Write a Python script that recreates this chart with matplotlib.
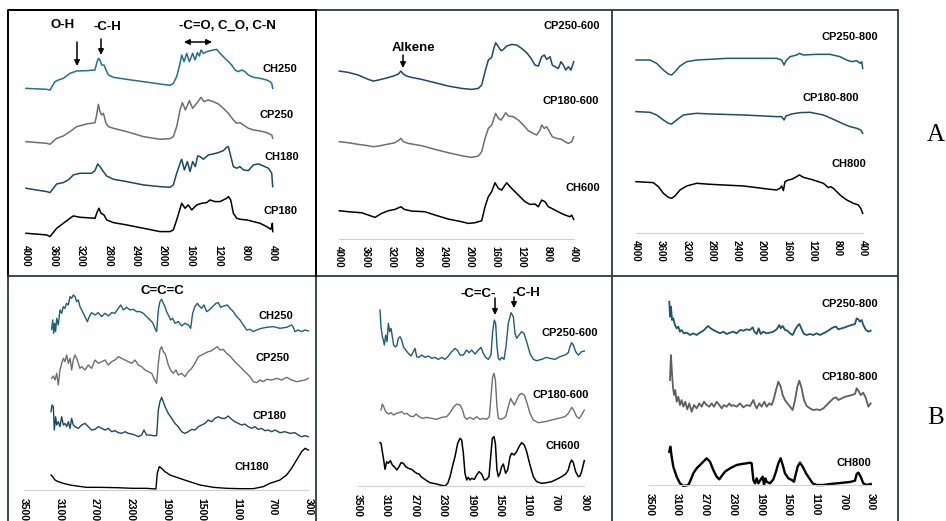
import matplotlib
matplotlib.use("Agg")
import matplotlib.pyplot as plt
import numpy as np

plt.rcParams["font.family"] = ["Liberation Sans", "DejaVu Sans"]

W, H = 946, 521
SCALE = 1 / 3          # px per a.u. of the stacked spectra

# ---------------- A: FTIR, 4000-400 cm-1 ----------------
ticks_a = [4000, 3600, 3200, 2800, 2400, 2000, 1600, 1200, 800, 400]
ticks_b = [3500, 3100, 2700, 2300, 1900, 1500, 1100, 700, 300]

# hydrochars / pyrolysed chars (panel A, left)
a1_ch250_w = [4000, 3698, 3650, 3577, 3528, 3455, 3358, 3260, 3115, 2993,
              2969, 2944, 2920, 2896, 2862, 2832, 2798, 2725, 2531, 2287,
              2044, 1898, 1850, 1801, 1752, 1728, 1694, 1655, 1616, 1568,
              1534, 1499, 1470, 1446, 1412, 1363, 1266, 1217, 1169, 1120,
              1047, 998, 950, 901, 852, 804, 755, 682, 585, 487, 439, 414, 400]
a1_ch250_i = [5, 2, 0, 25, 30, 35, 50, 57, 58, 60, 80, 95, 90, 75, 75, 60, 45, 38, 32, 25,
              18, 14, 20, 40, 80, 105, 85, 110, 85, 110, 90, 112, 102, 120, 110, 115, 120, 122, 110, 100,
              85, 75, 60, 55, 60, 55, 45, 38, 35, 30, 25, 20, 5]
a1_cp250_w = [4000, 3698, 3650, 3552, 3455, 3358, 3260, 3115, 2993, 2969,
              2944, 2920, 2896, 2871, 2832, 2798, 2725, 2531, 2287, 2044,
              1898, 1850, 1801, 1752, 1718, 1674, 1616, 1568, 1509, 1446,
              1402, 1339, 1266, 1193, 1120, 1047, 974, 925, 877, 828,
              755, 682, 585, 487, 414, 400]
a1_cp250_i = [8, 3, 0, 18, 25, 38, 53, 61, 65, 88, 120, 98, 88, 93, 63, 53, 48, 38, 23, 15,
              17, 23, 53, 103, 125, 103, 131, 108, 123, 141, 128, 133, 128, 121, 108, 93, 73, 63, 65, 58,
              48, 43, 40, 35, 28, 18]
a1_ch180_w = [4000, 3698, 3650, 3552, 3455, 3382, 3309, 3212, 3042, 2993,
              2954, 2920, 2871, 2823, 2725, 2531, 2287, 2044, 1898, 1850,
              1801, 1752, 1728, 1689, 1645, 1606, 1568, 1529, 1495, 1460,
              1412, 1339, 1266, 1193, 1120, 1071, 1047, 1023, 974, 925,
              877, 828, 755, 682, 609, 536, 463, 414, 400]
a1_ch180_i = [13, 3, 0, 26, 30, 38, 53, 58, 58, 66, 86, 78, 63, 50, 40, 33, 23, 18, 16, 23,
              58, 88, 100, 68, 93, 63, 93, 78, 110, 108, 100, 113, 116, 120, 126, 136, 138, 118, 78, 73,
              78, 68, 66, 83, 86, 80, 73, 58, 18]
a1_cp180_w = [4000, 3698, 3650, 3552, 3455, 3358, 3309, 3212, 2993, 2959,
              2935, 2905, 2862, 2823, 2725, 2531, 2287, 2044, 1898, 1850,
              1801, 1728, 1679, 1631, 1582, 1509, 1436, 1363, 1315, 1242,
              1169, 1071, 1047, 1013, 974, 925, 877, 779, 682, 585,
              487, 429, 414, 405, 400]
a1_cp180_i = [10, 5, 0, 25, 40, 55, 62, 58, 55, 75, 85, 70, 65, 50, 42, 35, 25, 15, 15, 20,
              50, 100, 85, 95, 80, 95, 100, 102, 110, 105, 105, 115, 120, 110, 70, 55, 52, 50, 45, 40,
              30, 22, 30, 40, 15]

# chars at 600 C (panel A, middle)
a2_cp250_w = [4000, 3862, 3708, 3554, 3478, 3401, 3298, 3170, 3094, 3053,
              3017, 2966, 2889, 2735, 2530, 2325, 2121, 1967, 1865, 1813,
              1762, 1711, 1660, 1634, 1598, 1557, 1516, 1480, 1429, 1352,
              1276, 1199, 1122, 1055, 994, 943, 892, 851, 815, 764,
              728, 687, 636, 595, 559, 523, 482, 441, 400]
a2_cp250_i = [55, 51, 43, 30, 25, 28, 33, 40, 46, 55, 46, 40, 36, 30, 20, 10, 3, 0, 3, 13,
              53, 88, 96, 118, 140, 128, 116, 120, 130, 135, 133, 123, 110, 93, 73, 70, 98, 103, 90, 98,
              73, 68, 63, 83, 73, 58, 68, 58, 83]
a2_cp180_w = [4000, 3862, 3708, 3554, 3478, 3401, 3273, 3145, 3083, 3053,
              3017, 2940, 2735, 2530, 2325, 2121, 1967, 1865, 1813, 1762,
              1711, 1660, 1634, 1598, 1557, 1516, 1480, 1445, 1404, 1327,
              1250, 1173, 1096, 1020, 968, 917, 892, 851, 815, 764,
              728, 661, 584, 533, 482, 431, 400]
a2_cp180_i = [47, 44, 39, 35, 32, 34, 39, 44, 52, 57, 47, 42, 35, 24, 14, 5, 0, 4, 17, 57,
              87, 97, 112, 132, 117, 112, 122, 134, 124, 122, 112, 97, 80, 72, 67, 82, 97, 87, 92, 74,
              62, 57, 54, 47, 42, 47, 62]
a2_ch600_w = [4000, 3862, 3657, 3554, 3452, 3350, 3247, 3145, 3053, 3001,
              2889, 2684, 2530, 2325, 2121, 2018, 1916, 1813, 1762, 1711,
              1660, 1609, 1557, 1506, 1465, 1429, 1378, 1301, 1224, 1148,
              1071, 994, 943, 892, 840, 789, 738, 687, 610, 533, 456, 431, 400]
a2_ch600_i = [38, 35, 32, 25, 18, 30, 38, 42, 50, 42, 37, 35, 25, 13, 5, 0, 2, 8, 50, 80,
              95, 122, 105, 100, 112, 122, 110, 95, 80, 65, 57, 58, 50, 70, 65, 50, 45, 40, 32, 25,
              20, 25, 12]

# chars at 800 C (panel A, right)
a3_cp250_w = [4000, 3778, 3672, 3566, 3486, 3434, 3381, 3301, 3195, 3036,
              2825, 2560, 2295, 2031, 1766, 1687, 1649, 1618, 1554, 1448,
              1406, 1342, 1131, 919, 760, 654, 575, 495, 442, 416, 400]
a3_cp250_i = [45, 45, 35, 15, 3, 0, 10, 27, 40, 45, 47, 50, 50, 50, 50, 45, 30, 43, 55, 60,
              65, 60, 62, 62, 55, 45, 40, 43, 35, 40, 20]
a3_cp180_w = [4000, 3778, 3672, 3566, 3486, 3434, 3354, 3248, 3036, 2825,
              2295, 1766, 1687, 1649, 1618, 1528, 1395, 1237, 1025, 866,
              707, 601, 495, 432, 400]
a3_cp180_i = [65, 63, 55, 40, 30, 28, 40, 55, 60, 58, 55, 50, 50, 40, 52, 58, 62, 63, 55, 42,
              28, 20, 15, 10, 0]
a3_ch800_w = [4000, 3725, 3645, 3566, 3486, 3434, 3381, 3301, 3195, 3036,
              2825, 2295, 1872, 1766, 1713, 1687, 1660, 1634, 1581, 1528,
              1448, 1406, 1342, 1184, 1025, 945, 908, 866, 760, 654,
              548, 469, 432, 400]
a3_ch800_i = [95, 92, 80, 60, 48, 45, 52, 70, 82, 90, 87, 82, 72, 70, 75, 82, 68, 95, 100, 102,
              110, 115, 108, 100, 90, 77, 80, 75, 55, 40, 30, 25, 15, 0]

# ---------------- B: Raman-type scans, 3500-300 cm-1 ----------------
b1_ch250_w = [3189, 3177, 3166, 3155, 3144, 3132, 3114, 3095, 3076, 3057,
              3039, 3020, 3001, 2982, 2964, 2945, 2926, 2907, 2889, 2870,
              2851, 2832, 2814, 2787, 2765, 2739, 2701, 2664, 2626, 2588,
              2551, 2513, 2476, 2438, 2412, 2382, 2345, 2307, 2270, 2232,
              2195, 2157, 2120, 2082, 2052, 2026, 2007, 1988, 1970, 1951,
              1932, 1913, 1895, 1876, 1850, 1827, 1801, 1763, 1726, 1688,
              1651, 1624, 1602, 1576, 1549, 1527, 1501, 1474, 1444, 1414,
              1377, 1339, 1313, 1287, 1249, 1212, 1182, 1144, 1107, 1069,
              1032, 994, 957, 919, 882, 826, 769, 694, 619, 544,
              488, 469, 450, 413, 375, 338, 300]
b1_ch250_i = [12, 40, 0, 30, 5, 45, 25, 70, 60, 80, 75, 90, 85, 110, 105, 115, 110, 95, 100, 80,
              70, 60, 50, 35, 50, 62, 55, 62, 50, 60, 52, 62, 60, 75, 85, 70, 78, 70, 72, 65,
              65, 60, 50, 40, 32, 15, 5, 70, 95, 102, 90, 80, 65, 55, 40, 45, 30, 35, 22, 30,
              25, 15, 60, 80, 90, 82, 75, 85, 65, 70, 80, 90, 92, 78, 82, 85, 75, 65, 50, 40,
              25, 10, 12, 5, 10, 15, 18, 20, 15, 18, 25, 18, 5, 10, 5, 10, 7]
b1_cp250_w = [3189, 3170, 3151, 3132, 3114, 3095, 3076, 3057, 3039, 3020,
              3001, 2982, 2964, 2945, 2926, 2907, 2889, 2870, 2851, 2814,
              2776, 2739, 2701, 2664, 2626, 2588, 2551, 2513, 2476, 2438,
              2401, 2363, 2326, 2288, 2251, 2213, 2176, 2138, 2101, 2063,
              2037, 2007, 1988, 1970, 1951, 1932, 1913, 1895, 1876, 1850,
              1820, 1790, 1763, 1726, 1688, 1651, 1613, 1576, 1538, 1501,
              1463, 1426, 1388, 1351, 1324, 1294, 1257, 1219, 1182, 1144,
              1107, 1069, 1032, 994, 957, 919, 882, 844, 807, 769,
              713, 657, 600, 544, 488, 432, 375, 338, 300]
b1_cp250_i = [20, 27, 15, 35, 0, 45, 65, 80, 70, 90, 65, 80, 45, 75, 90, 80, 65, 50, 55, 45,
              60, 50, 75, 65, 70, 75, 60, 70, 75, 85, 80, 75, 70, 65, 75, 60, 55, 45, 40, 35,
              20, 5, 65, 105, 115, 100, 95, 80, 60, 45, 35, 45, 30, 35, 25, 40, 50, 65, 85, 90,
              95, 100, 103, 110, 115, 105, 107, 95, 87, 75, 65, 55, 45, 35, 25, 10, 7, 15, 10, 17,
              15, 20, 15, 23, 15, 10, 13, 15, 20]
b1_cp180_w = [3196, 3185, 3170, 3159, 3144, 3132, 3114, 3095, 3076, 3057,
              3039, 3020, 3001, 2982, 2964, 2945, 2926, 2889, 2851, 2814,
              2776, 2739, 2701, 2664, 2626, 2588, 2551, 2513, 2476, 2438,
              2401, 2363, 2326, 2288, 2251, 2213, 2176, 2150, 2120, 2082,
              2045, 2007, 1988, 1970, 1951, 1932, 1913, 1876, 1838, 1801,
              1763, 1726, 1688, 1651, 1613, 1576, 1538, 1501, 1463, 1426,
              1388, 1351, 1313, 1276, 1238, 1201, 1163, 1126, 1088, 1051,
              1013, 976, 938, 901, 863, 826, 788, 750, 713, 675,
              619, 563, 507, 450, 413, 375, 338, 300]
b1_cp180_i = [75, 95, 90, 20, 60, 35, 45, 30, 60, 35, 40, 30, 45, 25, 55, 35, 30, 25, 35, 40,
              30, 20, 22, 30, 25, 20, 25, 15, 18, 12, 10, 15, 10, 8, 5, 0, 5, 20, 5, 5,
              3, 3, 80, 105, 118, 105, 90, 70, 55, 40, 30, 15, 10, 15, 22, 20, 30, 35, 40, 50,
              45, 55, 60, 55, 55, 62, 52, 45, 40, 35, 38, 30, 25, 30, 22, 25, 18, 20, 15, 20,
              12, 15, 10, 12, 5, 0, 3, 0]
b1_ch180_w = [3196, 3177, 3151, 3114, 3057, 2982, 2907, 2795, 2645, 2457,
              2270, 2120, 2015, 2000, 1977, 1951, 1913, 1857, 1782, 1670,
              1519, 1369, 1219, 1069, 919, 807, 732, 619, 544, 488,
              432, 375, 338, 300]
b1_ch180_i = [42, 37, 27, 22, 17, 12, 9, 5, 5, 4, 2, 2, 0, 47, 67, 62, 52, 42, 35, 25,
              12, 5, 2, 1, 1, 7, 17, 27, 42, 62, 87, 112, 122, 117]

b2_cp250_w = [3185, 3171, 3152, 3138, 3124, 3105, 3086, 3067, 3048, 3029,
              3011, 2992, 2973, 2949, 2926, 2902, 2879, 2855, 2822, 2785,
              2747, 2714, 2691, 2667, 2634, 2596, 2549, 2502, 2455, 2408,
              2361, 2314, 2267, 2220, 2173, 2126, 2088, 2055, 2008, 1961,
              1928, 1891, 1843, 1796, 1759, 1726, 1693, 1655, 1618, 1594,
              1571, 1552, 1533, 1514, 1491, 1467, 1434, 1406, 1373, 1335,
              1302, 1279, 1255, 1222, 1185, 1152, 1114, 1067, 1020, 973,
              902, 832, 785, 714, 644, 573, 526, 502, 479, 455,
              422, 384, 361, 338, 300]
b2_cp250_i = [152, 102, 72, 62, 47, 77, 57, 112, 87, 97, 72, 47, 42, 44, 67, 72, 62, 42, 32, 22,
              14, 27, 37, 12, 10, 17, 10, 14, 7, 10, 4, 10, 4, 14, 27, 37, 30, 17, 17, 32,
              24, 32, 20, 32, 40, 22, 10, 4, 17, 87, 122, 112, 42, 7, 2, 10, 4, 42, 112, 144,
              132, 82, 67, 77, 87, 82, 57, 22, 4, 0, 4, 10, 7, 4, 12, 17, 24, 42, 54, 47,
              27, 17, 22, 27, 29]
b2_cp180_w = [3171, 3152, 3133, 3105, 3067, 3029, 2992, 2954, 2916, 2879,
              2841, 2804, 2761, 2714, 2676, 2634, 2587, 2526, 2455, 2385,
              2314, 2244, 2196, 2149, 2102, 2055, 2018, 1994, 1961, 1914,
              1867, 1820, 1773, 1726, 1679, 1641, 1618, 1594, 1575, 1556,
              1533, 1514, 1476, 1444, 1411, 1373, 1340, 1316, 1288, 1255,
              1222, 1185, 1147, 1114, 1067, 1020, 949, 855, 761, 667,
              573, 526, 498, 479, 451, 408, 371, 338, 300]
b2_cp180_i = [38, 56, 48, 33, 26, 30, 23, 28, 30, 33, 26, 28, 20, 18, 26, 18, 13, 16, 13, 10,
              16, 18, 30, 46, 56, 53, 38, 18, 10, 16, 10, 18, 10, 13, 10, 18, 78, 138, 148, 128,
              48, 13, 10, 13, 18, 48, 73, 63, 53, 68, 83, 88, 83, 63, 28, 8, 0, 3, 8, 13,
              18, 28, 38, 46, 38, 18, 13, 23, 38]
b2_ch600_w = [3185, 3171, 3152, 3133, 3114, 3091, 3067, 3039, 3011, 2982,
              2949, 2916, 2888, 2855, 2822, 2785, 2738, 2700, 2667, 2634,
              2606, 2573, 2526, 2479, 2432, 2385, 2338, 2267, 2229, 2196,
              2163, 2126, 2088, 2055, 2032, 2008, 1985, 1961, 1938, 1914,
              1891, 1853, 1820, 1787, 1749, 1712, 1679, 1646, 1622, 1599,
              1575, 1556, 1533, 1514, 1491, 1467, 1443, 1411, 1382, 1349,
              1326, 1293, 1255, 1222, 1185, 1147, 1114, 1067, 1020, 973,
              902, 832, 761, 691, 620, 563, 526, 502, 479, 455,
              422, 384, 361, 338, 300]
b2_ch600_i = [130, 128, 103, 78, 50, 73, 68, 76, 63, 58, 48, 58, 70, 68, 58, 53, 50, 43, 38, 36,
              28, 23, 16, 10, 8, 6, 3, 0, 8, 28, 58, 88, 128, 143, 138, 98, 38, 18, 26, 18,
              23, 20, 33, 43, 36, 18, 20, 28, 88, 143, 148, 128, 48, 28, 38, 58, 66, 38, 48, 88,
              98, 93, 103, 118, 130, 123, 103, 63, 28, 13, 8, 10, 13, 20, 28, 36, 48, 68, 78, 70,
              43, 28, 30, 43, 76]

b3_cp250_w = [3211, 3201, 3187, 3172, 3153, 3129, 3105, 3081, 3057, 3033,
              3000, 2960, 2912, 2864, 2816, 2767, 2719, 2671, 2647, 2613,
              2575, 2527, 2478, 2430, 2382, 2334, 2286, 2237, 2189, 2141,
              2093, 2045, 2006, 1982, 1948, 1919, 1890, 1852, 1804, 1756,
              1707, 1659, 1621, 1601, 1572, 1539, 1505, 1466, 1428, 1394,
              1360, 1331, 1298, 1264, 1225, 1177, 1129, 1081, 1033, 984,
              936, 888, 840, 801, 768, 719, 671, 623, 575, 527,
              503, 478, 455, 431, 407, 369, 334, 300]
b3_cp250_i = [100, 55, 85, 45, 50, 30, 20, 25, 10, 15, 5, 7, 0, 5, 0, 7, 13, 23, 27, 20,
              15, 10, 5, 10, 3, 7, 10, 5, 15, 13, 17, 15, 23, 10, 3, 20, 3, 10, 5, 7,
              10, 17, 30, 20, 27, 15, 13, 5, 0, 15, 27, 33, 17, 3, 0, 3, 0, 5, 0, 5,
              10, 17, 23, 25, 17, 20, 23, 27, 30, 33, 50, 47, 40, 45, 30, 15, 10, 13]
b3_cp180_w = [3201, 3187, 3172, 3158, 3143, 3124, 3105, 3081, 3057, 3033,
              3008, 2980, 2951, 2922, 2888, 2854, 2816, 2777, 2743, 2710,
              2671, 2633, 2599, 2565, 2527, 2488, 2454, 2421, 2382, 2343,
              2315, 2286, 2237, 2189, 2141, 2093, 2045, 1996, 1972, 1948,
              1910, 1876, 1837, 1804, 1765, 1731, 1698, 1669, 1635, 1601,
              1572, 1539, 1505, 1466, 1428, 1394, 1360, 1331, 1298, 1264,
              1225, 1177, 1129, 1081, 1033, 984, 936, 888, 840, 801,
              768, 719, 671, 623, 575, 527, 503, 478, 445, 407,
              369, 334, 300]
b3_cp180_i = [95, 170, 115, 75, 50, 65, 30, 45, 20, 35, 15, 30, 7, 25, 0, 20, 10, 25, 15, 30,
              20, 15, 25, 15, 30, 20, 10, 20, 15, 25, 17, 20, 15, 25, 13, 20, 17, 35, 20, 10,
              25, 15, 30, 15, 25, 20, 40, 65, 90, 75, 50, 35, 25, 15, 5, 35, 75, 93, 70, 35,
              17, 10, 5, 7, 5, 10, 20, 30, 40, 43, 35, 40, 45, 47, 50, 53, 70, 63, 50, 57,
              40, 15, 25]
b3_ch800_w = [3211, 3196, 3177, 3153, 3105, 3057, 3008, 2936, 2902, 2864,
              2816, 2767, 2719, 2671, 2623, 2575, 2527, 2488, 2454, 2406,
              2334, 2237, 2165, 2093, 2045, 2021, 1996, 1972, 1948, 1924,
              1900, 1862, 1842, 1823, 1804, 1756, 1707, 1669, 1635, 1601,
              1572, 1539, 1490, 1442, 1409, 1380, 1356, 1322, 1283, 1235,
              1187, 1139, 1081, 984, 888, 792, 695, 599, 527, 503,
              478, 445, 407, 358, 300]
b3_ch800_i = [103, 118, 88, 58, 28, 8, 0, 3, 18, 38, 53, 63, 73, 83, 73, 48, 28, 20, 30, 43,
              53, 63, 66, 68, 70, 68, 18, 8, 23, 8, 16, 28, 3, 23, 13, 8, 20, 43, 68, 83,
              63, 38, 23, 18, 13, 38, 58, 70, 58, 38, 23, 8, 3, 3, 6, 8, 10, 12, 16, 36,
              40, 28, 8, 3, 6]

TEAL = "#1f7094"
DTEAL = "#1b4a5e"
NAVY = "#1f4571"
GREY = "#6e6e6e"

TICK_A = dict(fontsize=7, fontweight="bold",
              family=["Liberation Sans Narrow", "Liberation Sans"])
TICK_B = dict(fontsize=7.5, fontweight="bold", family=["Liberation Sans"])

fig = plt.figure(figsize=(W / 100, H / 100), dpi=100)


def add_panel(x0, x1, y_axis, y_top, xmax, xmin, ticks, curves,
              tick_font, pad=5, show_axis=True):
    ax = fig.add_axes([x0 / W, 1 - y_axis / H, (x1 - x0) / W, (y_axis - y_top) / H])
    ax.set_xlim(xmax, xmin)
    ax.set_ylim(0, y_axis - y_top)
    for w, inten, off, color, lw in curves:
        ax.plot(w, off + np.asarray(inten) * SCALE, color=color, lw=lw,
                solid_joinstyle="round", clip_on=False)
    ax.set_xticks(ticks)
    ax.set_xticklabels([str(t) for t in ticks], rotation=-90, **tick_font)
    ax.tick_params(axis="x", length=0, pad=pad)
    ax.set_yticks([])
    for s in ["top", "left", "right"]:
        ax.spines[s].set_visible(False)
    ax.spines["bottom"].set_color("#d0d0d0")
    ax.spines["bottom"].set_visible(show_axis)
    ax.patch.set_alpha(0)
    return ax


add_panel(26, 272.7, 238.3, 10, 4000, 400, ticks_a, [
    (a1_ch250_w, a1_ch250_i, 148.3, TEAL, 1.1),
    (a1_cp250_w, a1_cp250_i, 94.0, GREY, 1.1),
    (a1_ch180_w, a1_ch180_i, 45.7, DTEAL, 1.1),
    (a1_cp180_w, a1_cp180_i, 1.7, "black", 1.1),
], TICK_A, show_axis=False)

add_panel(339.3, 573.7, 238.7, 10, 4000, 400, ticks_a, [
    (a2_cp250_w, a2_cp250_i, 149.3, NAVY, 1.1),
    (a2_cp180_w, a2_cp180_i, 81.3, GREY, 1.1),
    (a2_ch600_w, a2_ch600_i, 15.3, "black", 1.1),
], TICK_A)

add_panel(636, 862.7, 233.3, 10, 4000, 400, ticks_a, [
    (a3_cp250_w, a3_cp250_i, 158.3, "#1d5a73", 1.1),
    (a3_cp180_w, a3_cp180_i, 100.0, "#1d4e66", 1.1),
    (a3_ch800_w, a3_ch800_i, 20.0, "black", 1.1),
], TICK_A)

add_panel(24, 308.3, 490, 276, 3500, 300, ticks_b, [
    (b1_ch250_w, b1_ch250_i, 156.7, "#1e5f78", 1.0),
    (b1_cp250_w, b1_cp250_i, 105.0, GREY, 1.0),
    (b1_cp180_w, b1_cp180_i, 53.3, DTEAL, 1.0),
    (b1_ch180_w, b1_ch180_i, 1.0, "black", 1.0),
], TICK_B, pad=6)

add_panel(357.7, 584.3, 486, 276, 3500, 300, ticks_b, [
    (b2_cp250_w, b2_cp250_i, 125.3, "#1e5b78", 1.0),
    (b2_cp180_w, b2_cp180_i, 63.3, GREY, 1.0),
    (b2_ch600_w, b2_ch600_i, 0.0, "black", 1.1),
], TICK_B, pad=6)

add_panel(649.3, 870.7, 485, 276, 3500, 300, ticks_b, [
    (b3_cp250_w, b3_cp250_i, 150.0, "#1d5570", 1.3),
    (b3_cp180_w, b3_cp180_i, 73.3, "#5e5e5e", 1.3),
    (b3_ch800_w, b3_ch800_i, -1.0, "black", 1.7),
], TICK_B, pad=6)

# overlay in pixel coordinates: frames, labels, annotations
ov = fig.add_axes([0, 0, 1, 1])
ov.set_xlim(0, W)
ov.set_ylim(H, 0)
ov.axis("off")
ov.patch.set_alpha(0)

frame = "#2b3a42"
ov.plot([316, 898], [10, 10], color=frame, lw=1.3)
ov.plot([8, 898], [275.5, 275.5], color=frame, lw=1.3)
for x in [316, 612, 898]:
    ov.plot([x, x], [10, 525], color=frame, lw=1.3)
ov.plot([8, 8, 316, 316], [275.5, 10, 10, 275.5], color="black", lw=1.4)
ov.plot([8, 8], [275.5, 525], color=frame, lw=1.3)

lab = dict(fontsize=8, fontweight="bold", ha="center", va="center")
for txt, x, y in [("CH250", 280, 69), ("CP250", 277, 115), ("CH180", 282, 157),
                  ("CP180", 280, 211),
                  ("CP250-600", 572, 26), ("CP180-600", 571, 101), ("CH600", 583, 188),
                  ("CP250-800", 850, 37), ("CP180-800", 831, 98), ("CH800", 849, 164),
                  ("CH250", 276, 316), ("CP250", 273, 358), ("CP180", 269, 416),
                  ("CH180", 252, 467),
                  ("CP250-600", 570, 333), ("CP180-600", 561, 395), ("CH600", 563, 446),
                  ("CP250-800", 850, 304), ("CP180-800", 850, 377), ("CH800", 854, 463)]:
    ov.text(x, y, txt, **lab)

ann = dict(fontsize=9.5, fontweight="bold", ha="center", va="center")
ov.text(63, 25, "O-H", **ann)
ov.text(107, 27, "-C-H", **ann)
ov.text(227, 26, "-C=O, C_O, C-N", **ann)
ov.text(413, 48, "Alkene", **ann)
ov.text(162, 291, "C=C=C", **ann)
ov.text(478, 294, "-C=C-", **ann)
ov.text(526, 293, "-C-H", **ann)

arr = dict(arrowstyle="-|>", color="black", lw=1.1, mutation_scale=8,
           shrinkA=0, shrinkB=0)
for x, y0, y1 in [(77, 42, 66), (101, 39, 55), (403, 55, 68),
                  (495, 298, 315), (514, 297, 308)]:
    ov.annotate("", xy=(x, y1), xytext=(x, y0), arrowprops=arr)
ov.annotate("", xy=(212, 42), xytext=(184, 42),
            arrowprops=dict(arrowstyle="<|-|>", color="black", lw=1.1,
                            mutation_scale=8, shrinkA=0, shrinkB=0))

ov.text(936, 135, "A", fontsize=18, family="Liberation Serif", ha="center", va="center")
ov.text(936, 418, "B", fontsize=18, family="Liberation Serif", ha="center", va="center")

fig.savefig("out.png", dpi=100)
